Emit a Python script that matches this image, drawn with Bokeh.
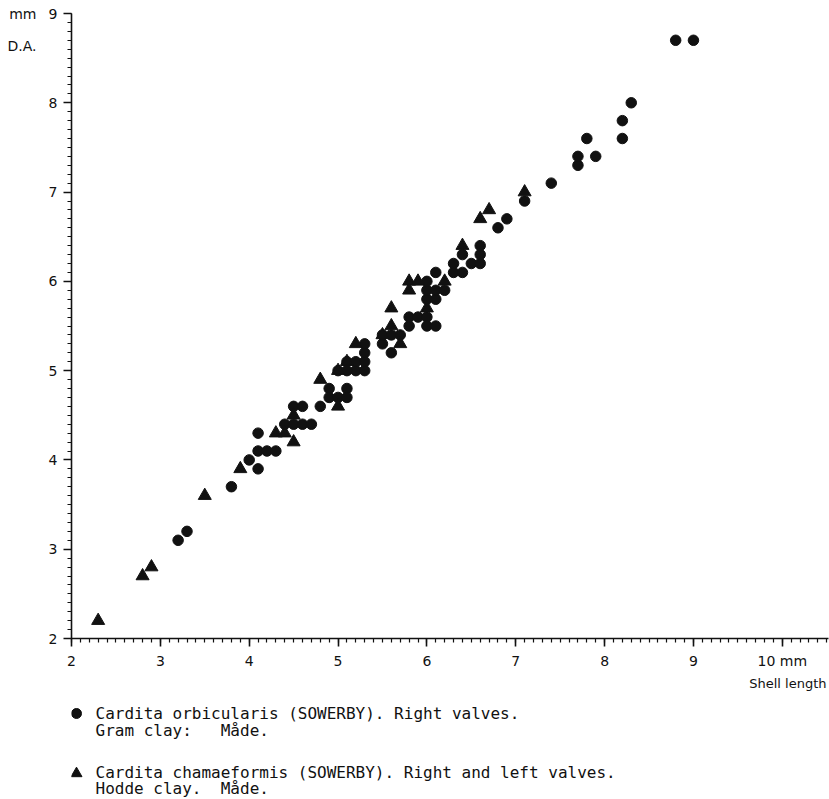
from bokeh.plotting import figure
from bokeh.layouts import column
from bokeh.models import Range1d, SingleIntervalTicker, FixedTicker, LinearAxis
from bokeh.core.properties import value
from bokeh.embed import file_html
from bokeh.resources import INLINE

# Cardita orbicularis (circles): shell length vs D.A. (mm)
circle_x = [3.2, 3.3, 3.8, 4.0, 4.1, 4.1, 4.1, 4.2, 4.3,
            4.4, 4.5, 4.6, 4.7, 4.5, 4.6, 4.8, 4.9, 4.9, 5.0, 5.1, 5.1,
            5.0, 5.1, 5.2, 5.3, 5.2, 5.3, 5.3, 5.3, 5.1,
            5.5, 5.5, 5.6, 5.6, 5.7, 5.8, 5.8, 5.9, 6.0, 6.0, 6.1,
            6.0, 6.1, 6.0, 6.1, 6.2, 6.1, 6.0, 6.3, 6.4, 6.3, 6.4, 6.5, 6.6, 6.6, 6.6,
            6.8, 6.9, 7.1, 7.4, 7.7, 7.7, 7.8, 7.9, 8.2, 8.2, 8.3, 8.8, 9.0]
circle_y = [3.1, 3.2, 3.7, 4.0, 3.9, 4.3, 4.1, 4.1, 4.1,
            4.4, 4.4, 4.4, 4.4, 4.6, 4.6, 4.6, 4.8, 4.7, 4.7, 4.8, 4.7,
            5.0, 5.1, 5.0, 5.0, 5.1, 5.1, 5.2, 5.3, 5.0,
            5.3, 5.4, 5.4, 5.2, 5.4, 5.5, 5.6, 5.6, 5.6, 5.5, 5.5,
            5.8, 5.8, 5.9, 5.9, 5.9, 6.1, 6.0, 6.1, 6.1, 6.2, 6.3, 6.2, 6.2, 6.3, 6.4,
            6.6, 6.7, 6.9, 7.1, 7.3, 7.4, 7.6, 7.4, 7.6, 7.8, 8.0, 8.7, 8.7]

# Cardita chamaeformis (triangles)
tri_x = [2.3, 2.8, 2.9, 3.5, 3.9, 4.3, 4.4, 4.5, 4.5, 4.8, 5.0, 5.0, 5.2, 5.1,
         5.5, 5.6, 5.6, 5.7, 5.8, 5.8, 5.9, 6.0, 6.2, 6.4, 6.6, 6.7, 7.1]
tri_y = [2.2, 2.7, 2.8, 3.6, 3.9, 4.3, 4.3, 4.2, 4.5, 4.9, 5.0, 4.6, 5.3, 5.1,
         5.4, 5.5, 5.7, 5.3, 5.9, 6.0, 6.0, 5.7, 6.0, 6.4, 6.7, 6.8, 7.0]

x_overrides = {10: "10 mm"}
unit_ticks = [9, 8.64]
unit_labels = {9: "mm", 8.64: "D.A."}
x_title = "Shell length"

NB = "\u00a0"
legend_line1 = ["Cardita orbicularis (SOWERBY). Right valves.", "Gram clay:" + NB * 3 + "Måde."]
legend_line2 = ["Cardita chamaeformis (SOWERBY). Right and left valves.", "Hodde clay." + NB * 2 + "Måde."]

INK = "#111111"
FONT = "DejaVu Sans"
LFONT = "DejaVu Sans Mono"

p = figure(width=829, height=672, x_range=Range1d(2, 10.52), y_range=Range1d(2, 9),
           min_border_left=71, min_border_right=1, min_border_top=13, min_border_bottom=34,
           output_backend="svg", toolbar_location=None)
p.grid.visible = False
p.outline_line_color = None
p.background_fill_color = "white"
p.border_fill_color = "white"

for ax in (p.xaxis[0], p.yaxis[0]):
    ax.ticker = SingleIntervalTicker(interval=1, num_minor_ticks=10)
    ax.axis_line_color = INK
    ax.axis_line_width = 1.6
    ax.major_tick_line_color = INK
    ax.major_tick_line_width = 1.6
    ax.minor_tick_line_color = INK
    ax.minor_tick_line_width = 1.2
    ax.major_tick_in = 0
    ax.major_tick_out = 8
    ax.minor_tick_in = 0
    ax.minor_tick_out = 4
    ax.major_label_text_font = FONT
    ax.major_label_text_font_size = "14px"
    ax.major_label_text_color = INK
    ax.major_label_standoff = 6
p.xaxis[0].major_label_overrides = x_overrides

# outer, line-less axis carrying the unit text "mm" and the quantity "D.A."
unit_axis = LinearAxis(ticker=FixedTicker(ticks=unit_ticks, minor_ticks=[]),
                       major_label_overrides=unit_labels,
                       axis_line_color=None, major_tick_line_color=None, minor_tick_line_color=None,
                       major_tick_in=0, major_tick_out=0, minor_tick_in=0, minor_tick_out=0,
                       major_label_standoff=9, major_label_text_font=FONT,
                       major_label_text_font_size="14px", major_label_text_color=INK)
p.add_layout(unit_axis, "left")

p.scatter(circle_x, circle_y, marker="circle", size=10.5, fill_color=INK, line_color=INK)
p.scatter(tri_x, tri_y, marker="triangle", size=13, fill_color=INK, line_color=INK)

p2 = figure(width=829, height=127, x_range=Range1d(71, 828), y_range=Range1d(127, 0),
            min_border_left=71, min_border_right=1, min_border_top=0, min_border_bottom=0,
            x_axis_location=None, y_axis_location=None,
            output_backend="svg", toolbar_location=None)
p2.grid.visible = False
p2.outline_line_color = None

p2.text(x=[826], y=[11], text=[x_title], text_font=value(FONT), text_font_size="13px",
        text_align="right", text_baseline="middle", text_color=INK)
p2.scatter(x=[76], y=[41], marker="circle", size=10, fill_color=INK, line_color=INK)
p2.scatter(x=[76], y=[101], marker="triangle", size=11, fill_color=INK, line_color=INK)
p2.text(x=[95, 95], y=[41, 58], text=legend_line1, text_font=value(LFONT), text_font_size="16px",
        text_align="left", text_baseline="middle", text_color=INK)
p2.text(x=[95, 95], y=[100, 116], text=legend_line2, text_font=value(LFONT), text_font_size="16px",
        text_align="left", text_baseline="middle", text_color=INK)

layout = column(p, p2, spacing=0)
open("out.html", "w").write(file_html(layout, INLINE))
